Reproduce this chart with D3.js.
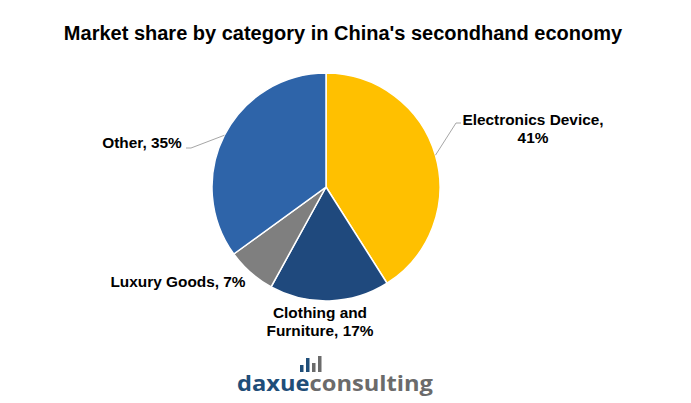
<!DOCTYPE html>
<html><head><meta charset="utf-8">
<script src="https://cdn.jsdelivr.net/npm/d3@7"></script>
<style>body{margin:0;background:#fff}svg{display:block}</style>
</head><body>
<script>
const categories = ["Electronics Device", "Clothing and Furniture", "Luxury Goods", "Other"];
const values = [41, 17, 7, 35];
const colors = ["#FFC000", "#1F497D", "#7F7F7F", "#2E64A9"];
const labelLines = [["Electronics Device,", "41%"], ["Clothing and", "Furniture, 17%"], ["Luxury Goods, 7%"], ["Other, 35%"]];

const W = 691, H = 403;
const svg = d3.select("body").append("svg").attr("width", W).attr("height", H);
svg.append("rect").attr("width", W).attr("height", H).attr("fill", "#fff");

svg.append("text").attr("x", 343).attr("y", 40).attr("text-anchor", "middle")
  .attr("font-family", "Liberation Sans, Arial, sans-serif").attr("font-weight", "bold")
  .attr("font-size", 20).attr("fill", "#000")
  .text("Market share by category in China's secondhand economy");

const cx = 326, cy = 187, r = 114;
const data = categories.map((c, i) => ({c, v: values[i], i}));
const pie = d3.pie().value(d => d.v).sort(null);
const arcs = pie(data);
const arc = d3.arc().innerRadius(0).outerRadius(r);
const g = svg.append("g").attr("transform", `translate(${cx},${cy})`);
g.selectAll("path").data(arcs).join("path").attr("d", arc)
  .attr("fill", d => colors[d.data.i]).attr("stroke", "#fff").attr("stroke-width", 1.5);

function edge(a, frac) {
  const ang = a.startAngle + (a.endAngle - a.startAngle) * frac;
  return [cx + r * Math.sin(ang), cy - r * Math.cos(ang)];
}
const lineColor = "#A6A6A6";
// Electronics leader
const e0 = edge(arcs[0], 0.5);
svg.append("polyline").attr("points", [e0, [456, 123], [461, 123]].map(p => p.join(",")).join(" "))
  .attr("fill", "none").attr("stroke", lineColor).attr("stroke-width", 1);
// Other leader
const o0 = edge(arcs[3], 0.5);
svg.append("polyline").attr("points", [o0, [191, 148], [186, 148]].map(p => p.join(",")).join(" "))
  .attr("fill", "none").attr("stroke", lineColor).attr("stroke-width", 1);

const lab = [
  {x: 533, y: 125, a: "middle"},
  {x: 320, y: 318, a: "middle"},
  {x: 178, y: 287, a: "middle"},
  {x: 142, y: 148, a: "middle"}
];
labelLines.forEach((lines, i) => {
  const t = svg.append("text").attr("x", lab[i].x).attr("y", lab[i].y).attr("text-anchor", lab[i].a)
    .attr("font-family", "Liberation Sans, Arial, sans-serif").attr("font-weight", "bold")
    .attr("font-size", 15.4).attr("fill", "#000");
  lines.forEach((l, k) => t.append("tspan").attr("x", lab[i].x).attr("dy", k ? 17.5 : 0).text(l));
});

// logo
const logo = svg.append("g");
const bars = [{x: 300, top: 365, c: "#1F4E79"}, {x: 306, top: 358, c: "#1F4E79"}, {x: 312, top: 363, c: "#6b6b6b"}, {x: 318, top: 356, c: "#6b6b6b"}];
bars.forEach(b => logo.append("rect").attr("x", b.x).attr("y", b.top).attr("width", 3.5).attr("height", 372 - b.top).attr("fill", b.c));
const lt = logo.append("text").attr("x", 237).attr("y", 391)
  .attr("font-family", "Open Sans, sans-serif").attr("font-weight", "700").attr("font-size", 22)
  .attr("textLength", 196).attr("lengthAdjust", "spacingAndGlyphs");
lt.append("tspan").attr("fill", "#1F4E79").text("daxue");
lt.append("tspan").attr("fill", "#6b6b6b").text("consulting");
</script>
</body></html>
